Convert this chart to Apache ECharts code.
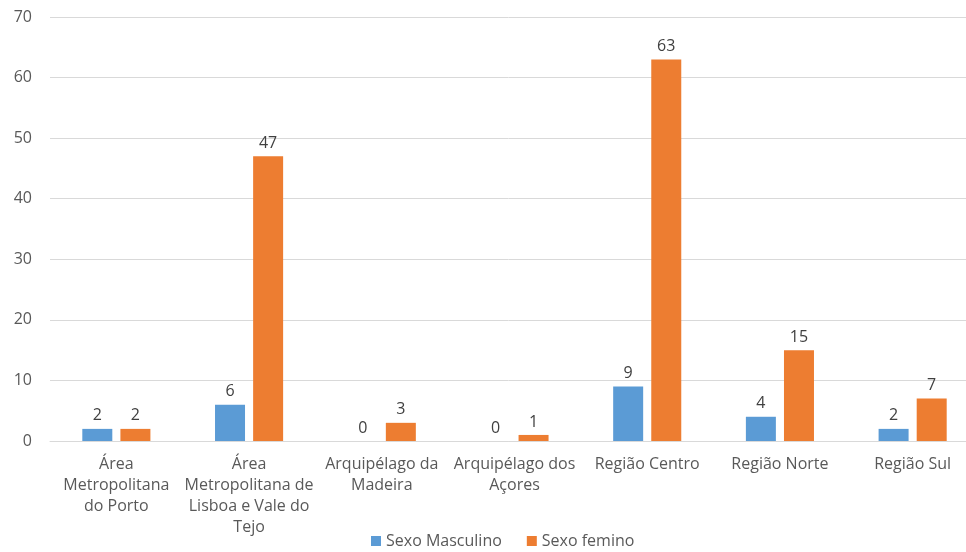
<!DOCTYPE html>
<html>
<head>
<meta charset="utf-8">
<script src="https://cdn.jsdelivr.net/npm/echarts@6/dist/echarts.min.js"></script>
<style>
  html, body { margin: 0; padding: 0; background: #fff; }
  #chart { width: 966px; height: 552px; }
</style>
</head>
<body>
<div id="chart"></div>
<script>
// Regions (line breaks as shown under the axis)
const categories = [
  'Área\nMetropolitana\ndo Porto',
  'Área\nMetropolitana de\nLisboa e Vale do\nTejo',
  'Arquipélago da\nMadeira',
  'Arquipélago dos\nAçores',
  'Região Centro',
  'Região Norte',
  'Região Sul'
];
const seriesNames = ['Sexo Masculino', 'Sexo femino'];
const male = [2, 6, 0, 0, 9, 4, 2];
const female = [2, 47, 3, 1, 63, 15, 7];
const yTicks = { min: 0, max: 70, interval: 10 };

const font = '"Open Sans", "Noto Sans", sans-serif';
const chart = echarts.init(document.getElementById('chart'), null, { renderer: 'canvas' });

const labelStyle = {
  show: true,
  position: 'top',
  distance: 5,
  color: '#404040',
  fontFamily: font,
  fontSize: 16
};

chart.setOption({
  animation: false,
  textStyle: { fontFamily: font },
  // plot area runs past the right edge of the canvas
  grid: {
    left: 50, right: -13, top: 17, bottom: 111,
    containLabel: false,
    outerBoundsMode: 'none'
  },
  legend: {
    bottom: -2,
    left: 366,
    itemWidth: 10,
    itemHeight: 10,
    itemGap: 25,
    icon: 'rect',
    textStyle: { color: '#595959', fontSize: 16, fontFamily: font },
    data: seriesNames
  },
  xAxis: {
    type: 'category',
    data: categories,
    axisLine: { lineStyle: { color: '#d9d9d9', width: 1 } },
    axisTick: { show: false },
    axisLabel: {
      color: '#595959',
      fontSize: 16,
      fontFamily: font,
      lineHeight: 21,
      margin: 13,
      interval: 0
    }
  },
  yAxis: {
    type: 'value',
    min: yTicks.min,
    max: yTicks.max,
    interval: yTicks.interval,
    axisLine: { show: false },
    axisTick: { show: false },
    splitLine: { lineStyle: { color: '#d9d9d9', width: 1 } },
    axisLabel: { color: '#595959', fontSize: 16, fontFamily: font, margin: 18 }
  },
  series: [
    {
      name: seriesNames[0],
      type: 'bar',
      data: male,
      barWidth: 30,
      barGap: '27%',
      itemStyle: { color: '#5b9bd5' },
      label: labelStyle
    },
    {
      name: seriesNames[1],
      type: 'bar',
      data: female,
      barWidth: 30,
      itemStyle: { color: '#ed7d31' },
      label: labelStyle
    }
  ]
});
</script>
</body>
</html>
